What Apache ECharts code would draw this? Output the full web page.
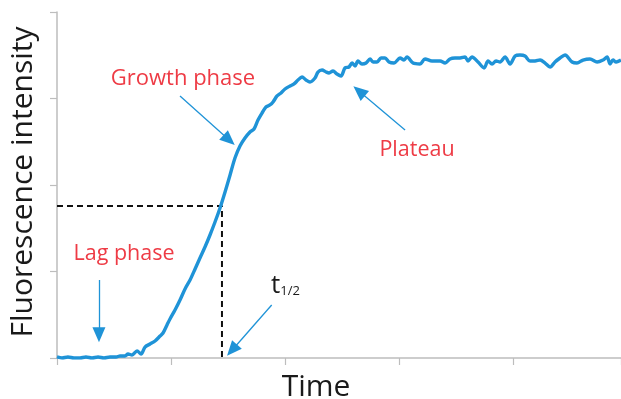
<!DOCTYPE html>
<html><head><meta charset="utf-8">
<script src="https://cdn.jsdelivr.net/npm/echarts@6/dist/echarts.min.js"></script>
<style>html,body{margin:0;padding:0;background:#fff}#c{width:621px;height:399px}</style>
</head><body><div id="c"></div>
<script>
const time = [0,0.044,0.096,0.149,0.202,0.254,0.307,0.360,0.412,0.465,0.518,0.553,0.596,0.623,0.658,0.702,0.737,0.772,0.816,0.860,0.904,0.930,0.965,0.991,1.035,1.079,1.123,1.167,1.211,1.254,1.298,1.342,1.386,1.430,1.474,1.518,1.561,1.605,1.649,1.693,1.728,1.763,1.798,1.833,1.868,1.895,1.930,1.965,2.000,2.044,2.079,2.114,2.149,2.184,2.219,2.263,2.289,2.325,2.360,2.386,2.421,2.456,2.491,2.526,2.561,2.588,2.614,2.640,2.675,2.711,2.746,2.772,2.807,2.842,2.877,2.912,2.956,3.009,3.044,3.070,3.123,3.184,3.228,3.289,3.360,3.404,3.447,3.491,3.535,3.579,3.605,3.640,3.693,3.746,3.781,3.816,3.851,3.886,3.930,3.974,4.018,4.061,4.105,4.149,4.193,4.237,4.281,4.325,4.368,4.412,4.456,4.518,4.561,4.614,4.675,4.737,4.789,4.825,4.851,4.877,4.904,4.947];
const intensity = [0.012,0,0.012,0,0,0.012,0,0.012,0,0.012,0.012,0.023,0.023,0.046,0.035,0.081,0.046,0.127,0.162,0.197,0.254,0.289,0.382,0.451,0.555,0.671,0.798,0.902,1.029,1.156,1.283,1.422,1.572,1.734,1.919,2.116,2.312,2.451,2.543,2.613,2.647,2.751,2.832,2.902,2.925,2.960,3.029,3.064,3.110,3.145,3.168,3.214,3.249,3.214,3.191,3.237,3.306,3.329,3.306,3.295,3.318,3.283,3.260,3.353,3.364,3.410,3.376,3.434,3.399,3.410,3.457,3.422,3.422,3.468,3.468,3.422,3.410,3.468,3.445,3.480,3.410,3.399,3.457,3.434,3.434,3.410,3.457,3.468,3.468,3.480,3.434,3.480,3.422,3.353,3.434,3.399,3.434,3.422,3.480,3.399,3.491,3.503,3.491,3.434,3.434,3.445,3.410,3.364,3.422,3.468,3.503,3.422,3.410,3.445,3.457,3.422,3.445,3.480,3.399,3.445,3.422,3.445];
const halfPoint = [1.447, 1.757];
const arrowGrowth = [[1.079, 3.029], [1.510, 2.520]];
const arrowPlateau = [[3.053, 2.636], [2.650, 3.085]];
const arrowLag = [[0.368, 0.902], [0.368, 0.270]];
const arrowHalf = [[1.883, 0.613], [1.535, 0.090]];
const labels = {x: 'Time', y: 'Fluorescence intensity', growth: 'Growth phase', plateau: 'Plateau', lag: 'Lag phase'};

const FONT = '"Open Sans", sans-serif';
const RED = '#ee3b45';
const BLUE = '#1f93d7';
const chart = echarts.init(document.getElementById('c'));
const seriesData = time.map((t, i) => [t, intensity[i]]);
const arrowStyle = {color: BLUE, width: 1.3, type: 'solid'};
chart.setOption({
  animation: false,
  grid: {left: 57, right: 0, top: 12, bottom: 41},
  xAxis: {type: 'value', min: 0, max: 4.947, interval: 1,
    axisLine: {lineStyle: {color: '#bdbdbd', width: 1.5}},
    axisTick: {show: true, inside: false, length: 7, lineStyle: {color: '#bdbdbd', width: 1.2}},
    axisLabel: {show: false}, splitLine: {show: false}},
  yAxis: {type: 'value', min: 0, max: 4, interval: 1,
    axisLine: {show: true, lineStyle: {color: '#bdbdbd', width: 1.5}},
    axisTick: {show: true, length: 7, lineStyle: {color: '#bdbdbd', width: 1.2}},
    axisLabel: {show: false}, splitLine: {show: false}},
  series: [
    {type: 'line', data: seriesData, showSymbol: false, smooth: 0.3,
     lineStyle: {color: BLUE, width: 3.4}, z: 3},
    {type: 'line', data: [[0, halfPoint[1]], halfPoint, [halfPoint[0], 0]], showSymbol: false,
     lineStyle: {color: '#111', width: 2, type: [6, 4]}, z: 2},
    {type: 'line', data: [], markLine: {silent: true, symbol: ['none', 'triangle'], symbolSize: [13, 15],
      lineStyle: arrowStyle, label: {show: false},
      data: [
        [{coord: arrowGrowth[0]}, {coord: arrowGrowth[1]}],
        [{coord: arrowPlateau[0]}, {coord: arrowPlateau[1]}],
        [{coord: arrowLag[0]}, {coord: arrowLag[1]}],
        [{coord: arrowHalf[0]}, {coord: arrowHalf[1]}]
      ]}}
  ],
  graphic: [
    {type: 'text', x: 316, y: 372, style: {text: labels.x, font: '30px ' + FONT, fill: '#1a1a1a', align: 'center', verticalAlign: 'top'}},
    {type: 'text', x: 8, y: 182, rotation: Math.PI / 2,
     style: {text: labels.y, font: '30px ' + FONT, fill: '#1a1a1a', align: 'center', verticalAlign: 'top'}},
    {type: 'text', x: 183, y: 79, style: {text: labels.growth, font: '22px ' + FONT, fill: RED, align: 'center', verticalAlign: 'middle'}},
    {type: 'text', x: 417, y: 150, style: {text: labels.plateau, font: '21.5px ' + FONT, fill: RED, align: 'center', verticalAlign: 'middle'}},
    {type: 'text', x: 124, y: 254, style: {text: labels.lag, font: '21.5px ' + FONT, fill: RED, align: 'center', verticalAlign: 'middle'}},
    {type: 'text', x: 271, y: 273, style: {text: '{a|t}{b|1/2}', fill: '#1a1a1a',
      rich: {a: {font: '26px ' + FONT, fill: '#1a1a1a'}, b: {font: '13px ' + FONT, fill: '#1a1a1a', padding: [11, 0, 0, 0]}}}}
  ]
});
</script></body></html>
